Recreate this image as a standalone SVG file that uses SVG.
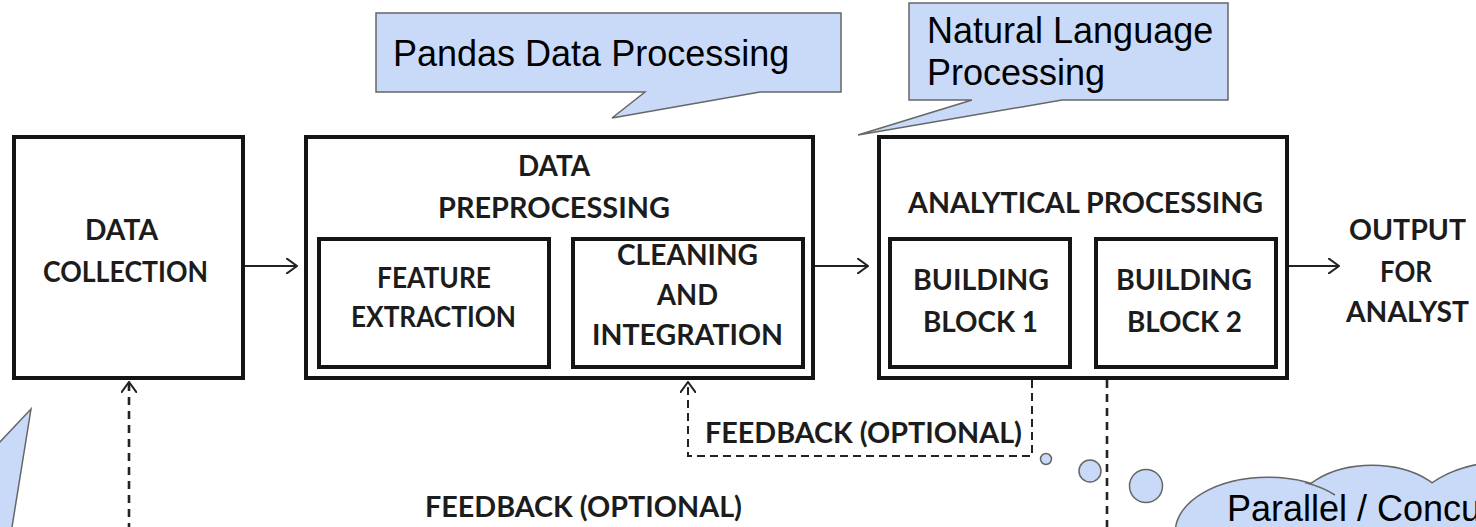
<svg xmlns="http://www.w3.org/2000/svg" width="1476" height="527" viewBox="0 0 1476 527">
  <style>
    .box { fill: #ffffff; stroke: #141414; stroke-width: 4; }
    .lbl { font-family: Lato, "Open Sans", sans-serif; font-weight: 700; font-size: 28px; fill: #1c1c1c; }
    .note { fill: #c9daf8; stroke: #666666; stroke-width: 1.5; stroke-linejoin: miter; }
    .note-txt { font-family: "Liberation Sans", Arial, sans-serif; font-size: 36px; fill: #000000; }
    .flow { fill: none; stroke: #222222; stroke-width: 2; }
    .dash { fill: none; stroke: #222222; stroke-width: 2; stroke-dasharray: 8 5; }
    .dash-thick { fill: none; stroke: #222222; stroke-width: 2.6; stroke-dasharray: 8 6; }
  </style>
  <defs>
    <marker id="open-arrow" viewBox="0 0 12 16" refX="11" refY="8" markerWidth="12" markerHeight="16" markerUnits="userSpaceOnUse" orient="auto">
      <path d="M0,0 L11,8 L0,16" fill="none" stroke="#222222" stroke-width="2"/>
    </marker>
  </defs>

  <rect width="1476" height="527" fill="#ffffff"/>

  <!-- pipeline stages -->
  <g id="data-collection">
    <rect class="box" x="14" y="137" width="229" height="241"/>
    <text class="lbl" x="85" y="240" textLength="73" lengthAdjust="spacingAndGlyphs">DATA</text>
    <text class="lbl" x="43" y="282" textLength="165" lengthAdjust="spacingAndGlyphs">COLLECTION</text>
  </g>

  <g id="data-preprocessing">
    <rect class="box" x="306" y="137" width="507" height="241"/>
    <text class="lbl" x="518" y="176" textLength="72" lengthAdjust="spacingAndGlyphs">DATA</text>
    <text class="lbl" x="438" y="218" textLength="232" lengthAdjust="spacingAndGlyphs">PREPROCESSING</text>
  </g>

  <g id="feature-extraction">
    <rect class="box" x="319" y="239" width="230" height="128"/>
    <text class="lbl" x="377" y="288" textLength="114" lengthAdjust="spacingAndGlyphs">FEATURE</text>
    <text class="lbl" x="351" y="327" textLength="165" lengthAdjust="spacingAndGlyphs">EXTRACTION</text>
  </g>

  <g id="cleaning-integration">
    <rect class="box" x="573" y="239" width="230" height="128"/>
    <text class="lbl" x="617" y="265" textLength="141" lengthAdjust="spacingAndGlyphs">CLEANING</text>
    <text class="lbl" x="657" y="305" textLength="61" lengthAdjust="spacingAndGlyphs">AND</text>
    <text class="lbl" x="592" y="345" textLength="191" lengthAdjust="spacingAndGlyphs">INTEGRATION</text>
  </g>

  <g id="analytical-processing">
    <rect class="box" x="879" y="137" width="408" height="241"/>
    <text class="lbl" x="908" y="213" textLength="355" lengthAdjust="spacingAndGlyphs">ANALYTICAL PROCESSING</text>
  </g>

  <g id="building-block-1">
    <rect class="box" x="890" y="239" width="180" height="128"/>
    <text class="lbl" x="913" y="290" textLength="136" lengthAdjust="spacingAndGlyphs">BUILDING</text>
    <text class="lbl" x="923" y="332" textLength="115" lengthAdjust="spacingAndGlyphs">BLOCK 1</text>
  </g>

  <g id="building-block-2">
    <rect class="box" x="1096" y="239" width="180" height="128"/>
    <text class="lbl" x="1116" y="290" textLength="136" lengthAdjust="spacingAndGlyphs">BUILDING</text>
    <text class="lbl" x="1127" y="332" textLength="115" lengthAdjust="spacingAndGlyphs">BLOCK 2</text>
  </g>

  <g id="output">
    <text class="lbl" x="1349" y="240" textLength="117" lengthAdjust="spacingAndGlyphs">OUTPUT</text>
    <text class="lbl" x="1380" y="282" textLength="52" lengthAdjust="spacingAndGlyphs">FOR</text>
    <text class="lbl" x="1346" y="322" textLength="123" lengthAdjust="spacingAndGlyphs">ANALYST</text>
  </g>

  <!-- connectors -->
  <g id="connectors">
    <path class="flow" d="M245,266 H297" marker-end="url(#open-arrow)"/>
    <path class="flow" d="M815,266 H868" marker-end="url(#open-arrow)"/>
    <path class="flow" d="M1289,266 H1339" marker-end="url(#open-arrow)"/>
    <path class="dash" d="M1032,380 V456 H688 V382" marker-end="url(#open-arrow)"/>
    <path class="dash-thick" d="M129,545 V382" marker-end="url(#open-arrow)"/>
    <path class="dash-thick" d="M1107,380 V545"/>
    <text class="lbl" x="705" y="443" textLength="317" lengthAdjust="spacingAndGlyphs">FEEDBACK (OPTIONAL)</text>
    <text class="lbl" x="425" y="517" textLength="317" lengthAdjust="spacingAndGlyphs">FEEDBACK (OPTIONAL)</text>
  </g>

  <!-- annotation callouts -->
  <g id="note-pandas">
    <path class="note" d="M376,13 H841 V92 H760 L612,118 L645,92 H376 Z"/>
    <text class="note-txt" x="393" y="66">Pandas Data Processing</text>
  </g>

  <g id="note-nlp">
    <path class="note" d="M909,3 H1228 V100 H1062 L858,135 L972,100 H909 Z"/>
    <text class="note-txt" x="927" y="43">Natural Language</text>
    <text class="note-txt" x="927" y="85">Processing</text>
  </g>

  <g id="note-collection">
    <path class="note" d="M31,409 L12,527 L12,560 L-90,560 L-90,537 Z"/>
  </g>

  <g id="note-parallel">
    <circle class="note" cx="1046" cy="459" r="5.5"/>
    <circle class="note" cx="1090" cy="471" r="11"/>
    <circle class="note" cx="1146" cy="486" r="16.5"/>
    <g>
      <ellipse cx="1268" cy="532" rx="92" ry="54" fill="#c9daf8" stroke="#666666" stroke-width="3"/>
      <ellipse cx="1372" cy="516" rx="79" ry="50" fill="#c9daf8" stroke="#666666" stroke-width="3"/>
      <ellipse cx="1510" cy="520" rx="100" ry="58" fill="#c9daf8" stroke="#666666" stroke-width="3"/>
      <ellipse cx="1268" cy="532" rx="92" ry="54" fill="#c9daf8"/>
      <ellipse cx="1372" cy="516" rx="79" ry="50" fill="#c9daf8"/>
      <ellipse cx="1510" cy="520" rx="100" ry="58" fill="#c9daf8"/>
      <path d="M1305,482.6 A92,54 0 0 1 1335,495" fill="none" stroke="#666666" stroke-width="1.5"/>
    </g>
    <text class="note-txt" x="1227" y="521">Parallel / Concurrent</text>
  </g>
</svg>
